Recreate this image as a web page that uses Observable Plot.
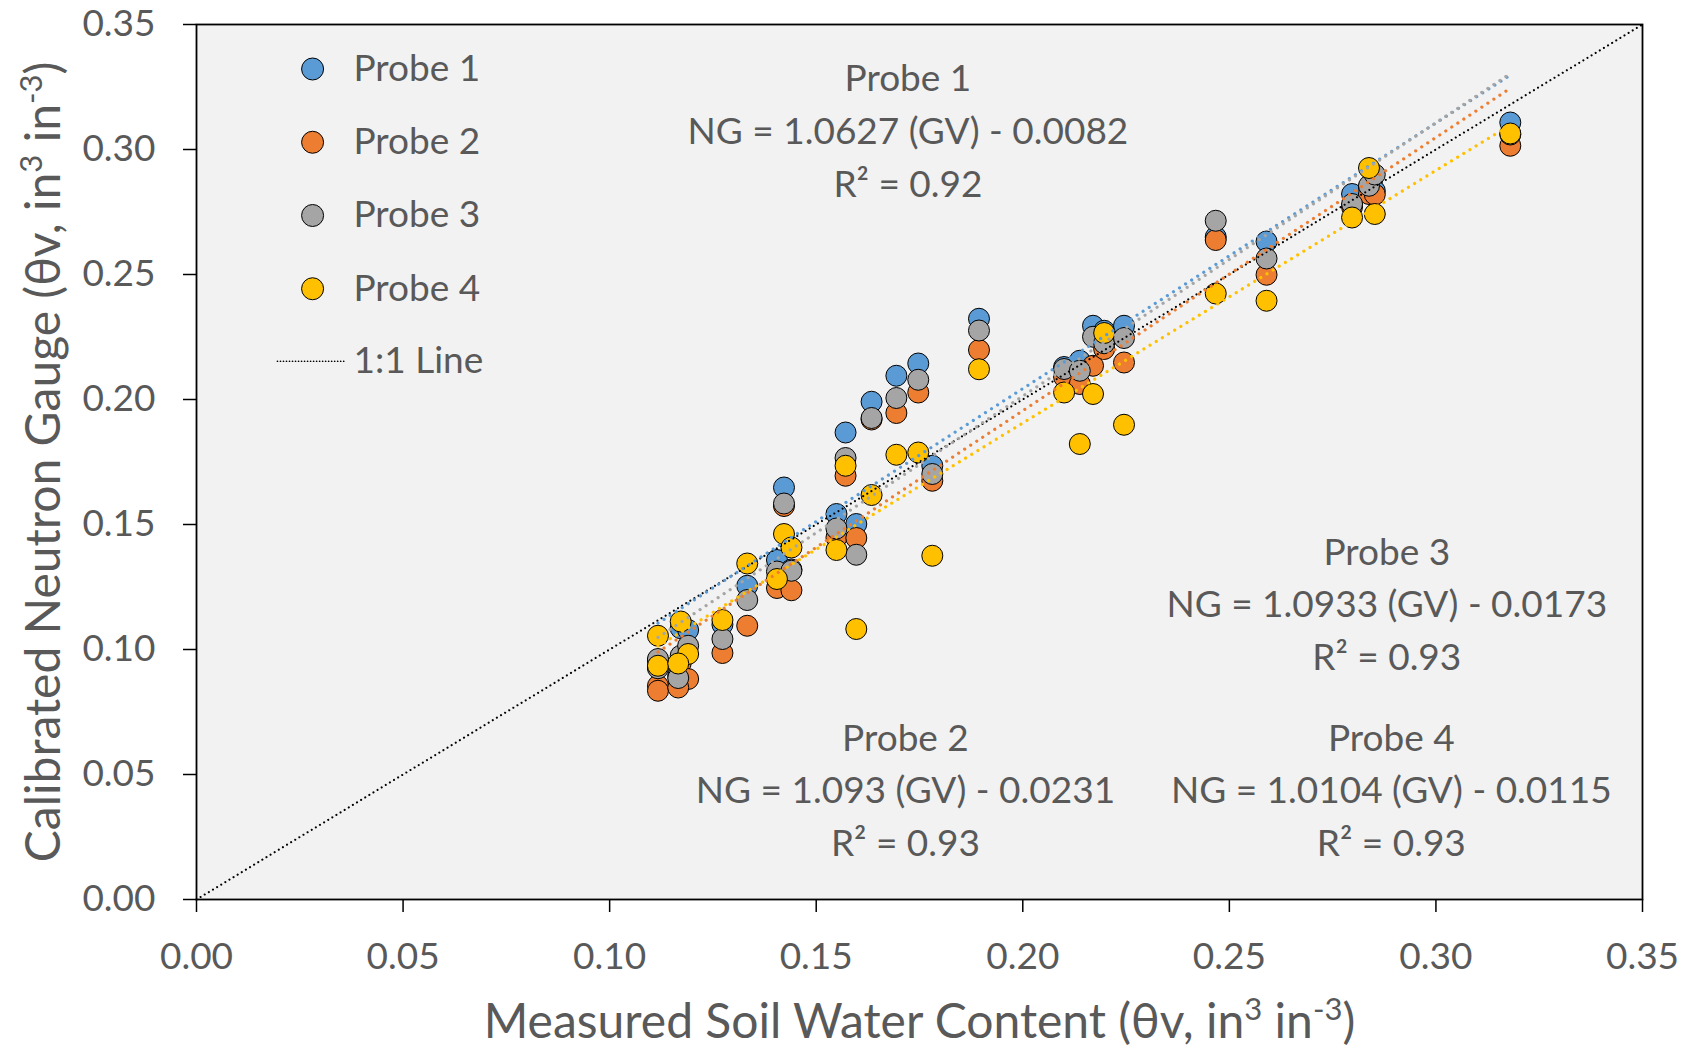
<!DOCTYPE html>
<html>
<head>
<meta charset="utf-8">
<script src="https://cdn.jsdelivr.net/npm/d3@7"></script>
<script src="https://cdn.jsdelivr.net/npm/@observablehq/plot@0.6"></script>
<style>
  html, body { margin: 0; padding: 0; background: #ffffff; }
  #chart svg { display: block; }
</style>
</head>
<body>
<div id="chart"></div>
<script>
// ---------------- data ----------------
const probeNames = ["Probe 1", "Probe 2", "Probe 3", "Probe 4"];
const probeColors = ["#5B9BD5", "#ED7D31", "#A5A5A5", "#FFC000"];

// measured (gravimetric) soil water content for each sampling event
const gv = [0.1117, 0.1117, 0.1172, 0.1190, 0.1166, 0.1273, 0.1333, 0.1405, 0.1422, 0.1440,
            0.1549, 0.1571, 0.1597, 0.1634, 0.1694, 0.1747, 0.1781, 0.1894, 0.2100, 0.2138,
            0.2170, 0.2197, 0.2245, 0.2467, 0.2590, 0.2797, 0.2838, 0.2852, 0.3180];

// calibrated neutron gauge readings per probe
const probe1 = [0.0955, 0.0930, 0.1085, 0.1078, 0.0895, 0.1100, 0.1255, 0.1358, 0.1648, 0.1320,
                0.1542, 0.1868, 0.1502, 0.1991, 0.2095, 0.2144, 0.1735, 0.2323, 0.2130, 0.2155,
                0.2295, 0.2275, 0.2295, 0.2650, 0.2632, 0.2822, 0.2850, 0.2835, 0.3108];
const probe2 = [0.0855, 0.0835, 0.0945, 0.0882, 0.0848, 0.0986, 0.1095, 0.1246, 0.1574, 0.1237,
                0.1448, 0.1695, 0.1446, 0.1920, 0.1946, 0.2028, 0.1675, 0.2198, 0.2090, 0.2062,
                0.2135, 0.2202, 0.2148, 0.2638, 0.2499, 0.2770, 0.2822, 0.2820, 0.3015];
const probe3 = [0.0962, 0.0925, 0.0975, 0.1015, 0.0886, 0.1042, 0.1198, 0.1312, 0.1584, 0.1315,
                0.1484, 0.1766, 0.1379, 0.1926, 0.2006, 0.2079, 0.1702, 0.2276, 0.2122, 0.2115,
                0.2251, 0.2225, 0.2246, 0.2715, 0.2564, 0.2782, 0.2855, 0.2900, 0.3060];
const probe4 = [0.1055, 0.0935, 0.1112, 0.0982, 0.0944, 0.1118, 0.1344, 0.1282, 0.1462, 0.1408,
                0.1398, 0.1735, 0.1082, 0.1618, 0.1779, 0.1788, 0.1375, 0.2121, 0.2028, 0.1822,
                0.2022, 0.2266, 0.1899, 0.2424, 0.2395, 0.2728, 0.2926, 0.2742, 0.3064];
const probeValues = [probe1, probe2, probe3, probe4];

// trendline equations shown on the chart
const slopes = [1.0627, 1.093, 1.0933, 1.0104];
const intercepts = [-0.0082, -0.0231, -0.0173, -0.0115];
const r2 = ["0.92", "0.93", "0.93", "0.93"];
const eqText = ["NG = 1.0627 (GV) - 0.0082", "NG = 1.093 (GV) - 0.0231",
                "NG = 1.0933 (GV) - 0.0173", "NG = 1.0104 (GV) - 0.0115"];

const axisDomain = [0, 0.35];
const tickValues = [0.00, 0.05, 0.10, 0.15, 0.20, 0.25, 0.30, 0.35];
const xTitle = "Measured Soil Water Content (θv, in3 in-3)";
const yTitle = "Calibrated Neutron Gauge (θv, in3 in-3)";
const oneToOneLabel = "1:1 Line";

// ---------------- derived tables ----------------
const points = [];
probeNames.forEach((name, p) => {
  gv.forEach((x, i) => points.push({probe: name, gv: x, ng: probeValues[p][i]}));
});
const gvMin = d3.min(gv), gvMax = d3.max(gv);
const trends = probeNames.map((name, p) => ({
  probe: name,
  x1: gvMin, y1: slopes[p] * gvMin + intercepts[p],
  x2: gvMax, y2: slopes[p] * gvMax + intercepts[p]
}));

// annotation placement (layout, data units)
const annPos = [
  {x: 0.1722, y: 0.3089},
  {x: 0.1716, y: 0.0452},
  {x: 0.2881, y: 0.1196},
  {x: 0.2892, y: 0.0452}
];
const annotations = probeNames.map((name, p) => ({
  x: annPos[p].x, y: annPos[p].y,
  text: `${name}\n${eqText[p]}\nR² = ${r2[p]}`
}));

// legend layout (data units)
const legX = 0.0281, legTextX = 0.0380, legTop = 0.3322, legStep = 0.0293;
const legend = probeNames.map((name, i) => ({probe: name, x: legX, y: legTop - i * legStep}));
const legLineY = legTop - 4 * legStep + 0.0003;
const legLine = [{x1: 0.0196, x2: 0.0357, y: legLineY}];

const textColor = "#595959";
const font = "Lato, 'Open Sans', sans-serif";

const chart = Plot.plot({
  width: 1686,
  height: 1047,
  marginLeft: 196,
  marginRight: 44,
  marginTop: 24,
  marginBottom: 148,
  style: {fontFamily: font, background: "#ffffff", color: textColor},
  x: {domain: axisDomain},
  y: {domain: axisDomain},
  color: {domain: probeNames, range: probeColors},
  marks: [
    Plot.frame({fill: "#F2F2F2"}),
    Plot.axisX({ticks: tickValues, tickFormat: d3.format(".2f"), tickSize: 13, tickPadding: 30,
                fontSize: 37, label: null, stroke: "#000000", strokeWidth: 1.5, fill: textColor}),
    Plot.axisY({ticks: tickValues, tickFormat: d3.format(".2f"), tickSize: 13, tickPadding: 28,
                fontSize: 37, label: null, stroke: "#000000", strokeWidth: 1.5, fill: textColor}),
    Plot.dot(points, {x: "gv", y: "ng", fill: "probe", r: 10.5, stroke: "#000000", strokeWidth: 1}),
    Plot.link([0], {x1: () => axisDomain[0], y1: () => axisDomain[0], x2: () => axisDomain[1], y2: () => axisDomain[1],
                    stroke: "#000000", strokeWidth: 2.1, strokeDasharray: "0.01 4.8", strokeLinecap: "round"}),
    Plot.link(trends, {x1: "x1", y1: "y1", x2: "x2", y2: "y2", stroke: "probe",
                       strokeWidth: 3.2, strokeDasharray: "0.01 7.2", strokeLinecap: "round"}),
    Plot.text(annotations, {x: "x", y: "y", text: "text", fontSize: 37, lineHeight: 1.424,
                            fill: textColor, textAnchor: "middle", lineAnchor: "middle"}),
    // legend
    Plot.dot(legend, {x: "x", y: "y", fill: "probe", r: 11, stroke: "#000000", strokeWidth: 1}),
    Plot.text(legend, {x: () => legTextX, y: "y", text: "probe", fontSize: 37, fill: textColor,
                       textAnchor: "start", lineAnchor: "middle"}),
    Plot.link(legLine, {x1: "x1", x2: "x2", y1: "y", y2: "y", stroke: "#000000", strokeWidth: 1.7,
                        strokeDasharray: "0.01 3", strokeLinecap: "round"}),
    Plot.text(legLine, {x: () => legTextX, y: "y", text: () => oneToOneLabel, fontSize: 37, fill: textColor,
                        textAnchor: "start", lineAnchor: "middle"}),
    // axis titles
    Plot.text([xTitle], {frameAnchor: "bottom", dy: 123, text: d => d, fontSize: 48, fill: textColor,
                         textAnchor: "middle", lineAnchor: "middle", className: "axis-title"}),
    Plot.text([yTitle], {frameAnchor: "left", dx: -152, rotate: -90, text: d => d, fontSize: 48, fill: textColor,
                         textAnchor: "middle", lineAnchor: "middle", className: "axis-title"}),
    Plot.frame({stroke: "#000000", strokeWidth: 1.8})
  ]
});

// superscripts in axis titles ("in3 in-3")
chart.querySelectorAll(".axis-title text").forEach(t => {
  const s = t.textContent;
  const m = s.match(/^(.*in)3( in)-3(\).*)$/);
  if (!m) return;
  t.textContent = "";
  const ns = "http://www.w3.org/2000/svg";
  const add = (txt, opts = {}) => {
    const ts = document.createElementNS(ns, "tspan");
    ts.textContent = txt;
    for (const k in opts) ts.setAttribute(k, opts[k]);
    t.appendChild(ts);
  };
  add(m[1]);
  add("3", {dy: "-18", "font-size": "31"});
  add(m[2], {dy: "18"});
  add("-3", {dy: "-18", "font-size": "31"});
  add(m[3], {dy: "18"});
});

document.getElementById("chart").appendChild(chart);
</script>
</body>
</html>
